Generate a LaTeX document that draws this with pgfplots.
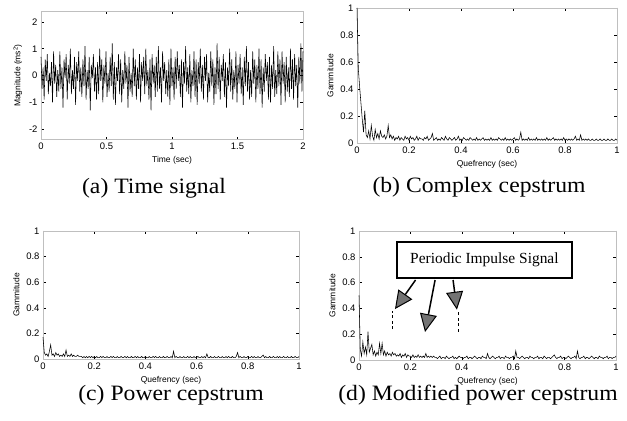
\documentclass[border=0pt]{standalone}
\usepackage{fontspec}
\setmainfont{Liberation Serif}
\newfontfamily\arial{Liberation Sans}
\usepackage{graphicx}
\usepackage{pgfplots}
\pgfplotsset{compat=1.18}
\usetikzlibrary{arrows.meta}
\pgfplotsset{
  base/.style={
    scale only axis, anchor=south west,
    tick align=inside, xtick pos=both, ytick pos=both,
    major tick length=3bp,
    axis line style={black!25, line width=0.4pt},
    tick style={black, line width=0.5pt},
    ticklabel style={font=\arial\fontsize{9.5}{10}\selectfont},
    /pgf/number format/assume math mode=true,
    label style={font=\arial\fontsize{8.5}{9}\selectfont},
    clip=false,
  },
  cep/.style={base, xmin=0, xmax=1, ymin=0, ymax=1,
    xtick={0,0.2,0.4,0.6,0.8,1}, ytick={0,0.2,0.4,0.6,0.8,1},
    xlabel={Quefrency (sec)}, ylabel={Gammitude}},
  dat/.style={black, line width=0.55pt, no marks},
}
\begin{document}
\begin{tikzpicture}
\path[use as bounding box] (0,0) rectangle (627bp,421bp);

% (a) Time signal
\begin{axis}[base, at={(41bp,281.3bp)}, width=262bp, height=128.4bp,
  xmin=0, xmax=2, ymin=-2.4, ymax=2.4,
  xtick={0,0.5,1,1.5,2}, ytick={-2,-1,0,1,2},
  xlabel={Time (sec)}, ylabel={Magnitude (ms\textsuperscript{2})}]
\addplot[dat] table[x expr=\coordindex/125, y index=0, header=false, row sep=\\] {
0.7\\ -0.5\\ 0.3\\ -0.9\\ 0.6\\ -0.2\\ 0.8\\ -0.7\\ 0.1\\ -0.4\\
0.5\\ -1.0\\ 0.9\\ -0.3\\ 0.4\\ -0.8\\ 0.2\\ -0.6\\ 0.9\\ -0.5\\
0.3\\ -1.2\\ 0.6\\ -0.1\\ 0.8\\ -0.9\\ 0.4\\ -0.3\\ 1.0\\ -0.7\\
0.2\\ -0.5\\ 0.7\\ -1.1\\ 0.5\\ -0.2\\ 0.9\\ -0.6\\ 0.3\\ -0.8\\
0.6\\ -0.4\\ 1.1\\ -0.9\\ 0.2\\ -0.5\\ 0.7\\ -1.3\\ 0.4\\ -0.1\\
0.8\\ -0.6\\ 0.3\\ -0.9\\ 0.5\\ -0.7\\ 1.0\\ -0.2\\ 0.6\\ -1.0\\
0.4\\ -0.3\\ 0.9\\ -0.8\\ 0.1\\ -0.6\\ 0.7\\ -0.4\\ 1.2\\ -0.9\\
0.5\\ -1.1\\ 0.3\\ -0.2\\ 0.8\\ -0.7\\ 0.6\\ -1.0\\ 0.2\\ -0.5\\
0.9\\ -0.3\\ 0.4\\ -1.2\\ 0.7\\ -0.6\\ 0.1\\ -0.8\\ 1.0\\ -0.4\\
0.6\\ -0.9\\ 0.3\\ -0.5\\ 0.8\\ -1.0\\ 0.5\\ -0.2\\ 0.7\\ -0.7\\
1.0\\ -0.4\\ 0.2\\ -0.9\\ 0.6\\ -1.3\\ 0.8\\ -0.3\\ 0.4\\ -0.8\\
0.7\\ -0.6\\ 1.1\\ -0.5\\ 0.3\\ -1.0\\ 0.9\\ -0.2\\ 0.5\\ -0.7\\
0.2\\ -0.8\\ 0.6\\ -1.1\\ 1.0\\ -0.4\\ 0.3\\ -0.9\\ 0.7\\ -0.5\\
0.9\\ -0.2\\ 0.4\\ -0.8\\ 0.6\\ -1.2\\ 0.5\\ -0.3\\ 1.1\\ -0.6\\
0.3\\ -0.7\\ 0.8\\ -1.0\\ 0.2\\ -0.4\\ 0.9\\ -0.8\\ 0.6\\ -1.1\\
0.5\\ -0.3\\ 1.0\\ -0.6\\ 0.4\\ -0.9\\ 0.7\\ -0.2\\ 0.8\\ -1.0\\
0.1\\ -0.6\\ 0.9\\ -0.4\\ 0.6\\ -1.1\\ 0.3\\ -0.7\\ 1.2\\ -0.5\\
0.7\\ -0.9\\ 0.4\\ -0.2\\ 0.8\\ -0.8\\ 0.5\\ -1.2\\ 0.3\\ -0.4\\
1.0\\ -0.6\\ 0.6\\ -0.9\\ 0.2\\ -0.5\\ 0.9\\ -1.0\\ 0.4\\ -0.3\\
0.8\\ -0.7\\ 0.3\\ -1.1\\ 0.7\\ -0.4\\ 1.1\\ -0.6\\ 0.5\\ -0.9\\
0.2\\ -0.8\\ 0.9\\ -0.3\\ 0.6\\ -1.0\\ 0.4\\ -0.5\\ 1.0\\ -0.7\\
0.6\\ -1.2\\ 0.3\\ -0.6\\ 0.8\\ -0.2\\ 0.5\\ -0.9\\ 0.7\\ -1.0\\
0.4\\ -0.5\\ 1.1\\ -0.8\\ 0.2\\ -0.7\\ 0.9\\ -0.4\\ 0.6\\ -1.1\\
0.9\\ -0.3\\ 0.5\\ -1.0\\ 0.7\\ -0.6\\ 0.3\\ -0.8\\ 1.0\\ -0.5\\
0.6\\ -0.9\\ 0.8\\ -0.4\\ 0.4\\ -1.2\\ 0.7\\ -0.3\\ 1.2\\ -0.6\\
0.9\\
};
\end{axis}

% (b) Complex cepstrum
\begin{axis}[cep, at={(357bp,278bp)}, width=260bp, height=135bp]
\addplot[dat] table[x expr=\coordindex/200, y index=0, header=false, row sep=\\] {
1.0\\ 0.55\\ 0.42\\ 0.30\\ 0.18\\ 0.08\\ 0.24\\ 0.06\\ 0.04\\ 0.09\\
0.03\\ 0.13\\ 0.05\\ 0.02\\ 0.10\\ 0.04\\ 0.07\\ 0.03\\ 0.09\\ 0.05\\
0.04\\ 0.06\\ 0.03\\ 0.05\\ 0.13\\ 0.04\\ 0.06\\ 0.03\\ 0.05\\ 0.02\\
0.04\\ 0.03\\ 0.05\\ 0.02\\ 0.04\\ 0.03\\ 0.02\\ 0.05\\ 0.03\\ 0.04\\
0.02\\ 0.05\\ 0.03\\ 0.04\\ 0.02\\ 0.03\\ 0.05\\ 0.02\\ 0.04\\ 0.03\\
0.03\\ 0.02\\ 0.04\\ 0.03\\ 0.05\\ 0.02\\ 0.03\\ 0.04\\ 0.07\\ 0.02\\
0.03\\ 0.04\\ 0.02\\ 0.03\\ 0.02\\ 0.04\\ 0.03\\ 0.02\\ 0.05\\ 0.03\\
0.02\\ 0.04\\ 0.03\\ 0.02\\ 0.03\\ 0.04\\ 0.02\\ 0.03\\ 0.05\\ 0.02\\
0.03\\ 0.02\\ 0.04\\ 0.03\\ 0.02\\ 0.03\\ 0.02\\ 0.04\\ 0.03\\ 0.02\\
0.03\\ 0.02\\ 0.04\\ 0.02\\ 0.03\\ 0.02\\ 0.03\\ 0.04\\ 0.02\\ 0.03\\
0.02\\ 0.03\\ 0.02\\ 0.04\\ 0.02\\ 0.03\\ 0.02\\ 0.03\\ 0.02\\ 0.04\\
0.03\\ 0.02\\ 0.03\\ 0.02\\ 0.04\\ 0.02\\ 0.03\\ 0.02\\ 0.03\\ 0.02\\
0.03\\ 0.04\\ 0.02\\ 0.03\\ 0.02\\ 0.03\\ 0.08\\ 0.02\\ 0.03\\ 0.02\\
0.03\\ 0.02\\ 0.04\\ 0.02\\ 0.03\\ 0.02\\ 0.03\\ 0.02\\ 0.04\\ 0.02\\
0.03\\ 0.02\\ 0.03\\ 0.02\\ 0.03\\ 0.02\\ 0.04\\ 0.02\\ 0.03\\ 0.02\\
0.03\\ 0.04\\ 0.02\\ 0.03\\ 0.02\\ 0.03\\ 0.02\\ 0.03\\ 0.02\\ 0.04\\
0.02\\ 0.03\\ 0.02\\ 0.03\\ 0.02\\ 0.03\\ 0.02\\ 0.03\\ 0.05\\ 0.02\\
0.03\\ 0.02\\ 0.06\\ 0.02\\ 0.03\\ 0.02\\ 0.03\\ 0.02\\ 0.03\\ 0.02\\
0.02\\ 0.03\\ 0.02\\ 0.02\\ 0.03\\ 0.02\\ 0.02\\ 0.03\\ 0.02\\ 0.02\\
0.03\\ 0.02\\ 0.02\\ 0.03\\ 0.02\\ 0.02\\ 0.03\\ 0.02\\ 0.02\\ 0.03\\
0.02\\
};
\end{axis}

% (c) Power cepstrum
\begin{axis}[cep, at={(43bp,62bp)}, width=256bp, height=128bp]
\addplot[dat] table[x expr=\coordindex/200, y index=0, header=false, row sep=\\] {
0.17\\ 0.05\\ 0.03\\ 0.04\\ 0.02\\ 0.06\\ 0.11\\ 0.03\\ 0.04\\ 0.02\\
0.05\\ 0.03\\ 0.04\\ 0.02\\ 0.03\\ 0.02\\ 0.04\\ 0.02\\ 0.07\\ 0.02\\
0.03\\ 0.02\\ 0.04\\ 0.02\\ 0.03\\ 0.02\\ 0.02\\ 0.03\\ 0.02\\ 0.02\\
0.02\\ 0.01\\ 0.02\\ 0.01\\ 0.02\\ 0.01\\ 0.02\\ 0.01\\ 0.02\\ 0.01\\
0.02\\ 0.01\\ 0.02\\ 0.01\\ 0.01\\ 0.02\\ 0.01\\ 0.02\\ 0.01\\ 0.01\\
0.02\\ 0.01\\ 0.01\\ 0.02\\ 0.01\\ 0.02\\ 0.01\\ 0.01\\ 0.02\\ 0.01\\
0.01\\ 0.02\\ 0.01\\ 0.01\\ 0.02\\ 0.01\\ 0.02\\ 0.01\\ 0.01\\ 0.02\\
0.01\\ 0.01\\ 0.02\\ 0.01\\ 0.02\\ 0.01\\ 0.01\\ 0.02\\ 0.01\\ 0.01\\
0.02\\ 0.01\\ 0.01\\ 0.02\\ 0.01\\ 0.01\\ 0.02\\ 0.01\\ 0.02\\ 0.01\\
0.01\\ 0.02\\ 0.01\\ 0.01\\ 0.02\\ 0.01\\ 0.01\\ 0.02\\ 0.01\\ 0.01\\
0.02\\ 0.01\\ 0.06\\ 0.01\\ 0.02\\ 0.01\\ 0.01\\ 0.02\\ 0.01\\ 0.01\\
0.02\\ 0.01\\ 0.01\\ 0.02\\ 0.01\\ 0.02\\ 0.01\\ 0.01\\ 0.02\\ 0.01\\
0.01\\ 0.02\\ 0.01\\ 0.01\\ 0.02\\ 0.01\\ 0.02\\ 0.01\\ 0.04\\ 0.01\\
0.01\\ 0.02\\ 0.01\\ 0.01\\ 0.02\\ 0.01\\ 0.01\\ 0.02\\ 0.01\\ 0.01\\
0.02\\ 0.01\\ 0.01\\ 0.02\\ 0.01\\ 0.02\\ 0.01\\ 0.01\\ 0.02\\ 0.01\\
0.01\\ 0.02\\ 0.05\\ 0.01\\ 0.02\\ 0.01\\ 0.01\\ 0.02\\ 0.01\\ 0.01\\
0.02\\ 0.01\\ 0.01\\ 0.02\\ 0.01\\ 0.02\\ 0.01\\ 0.01\\ 0.02\\ 0.01\\
0.01\\ 0.02\\ 0.03\\ 0.01\\ 0.02\\ 0.01\\ 0.01\\ 0.02\\ 0.01\\ 0.01\\
0.02\\ 0.01\\ 0.01\\ 0.02\\ 0.01\\ 0.02\\ 0.01\\ 0.01\\ 0.02\\ 0.01\\
0.01\\ 0.02\\ 0.01\\ 0.01\\ 0.02\\ 0.01\\ 0.01\\ 0.02\\ 0.01\\ 0.01\\
0.02\\
};
\end{axis}

% (d) Modified power cepstrum
\begin{axis}[cep, at={(359bp,61bp)}, width=257bp, height=129bp]
\addplot[dat] table[x expr=\coordindex/200, y index=0, header=false, row sep=\\] {
0.50\\ 0.08\\ 0.03\\ 0.14\\ 0.05\\ 0.10\\ 0.04\\ 0.22\\ 0.06\\ 0.09\\
0.12\\ 0.04\\ 0.07\\ 0.03\\ 0.06\\ 0.04\\ 0.13\\ 0.05\\ 0.13\\ 0.04\\
0.07\\ 0.03\\ 0.06\\ 0.04\\ 0.05\\ 0.03\\ 0.06\\ 0.04\\ 0.05\\ 0.03\\
0.04\\ 0.03\\ 0.05\\ 0.02\\ 0.04\\ 0.03\\ 0.05\\ 0.02\\ 0.04\\ 0.03\\
0.03\\ 0.02\\ 0.04\\ 0.02\\ 0.03\\ 0.02\\ 0.04\\ 0.02\\ 0.03\\ 0.02\\
0.03\\ 0.02\\ 0.05\\ 0.02\\ 0.03\\ 0.02\\ 0.03\\ 0.02\\ 0.03\\ 0.02\\
0.02\\ 0.01\\ 0.02\\ 0.03\\ 0.01\\ 0.02\\ 0.02\\ 0.01\\ 0.03\\ 0.02\\
0.01\\ 0.02\\ 0.02\\ 0.03\\ 0.01\\ 0.02\\ 0.01\\ 0.02\\ 0.03\\ 0.02\\
0.02\\ 0.01\\ 0.02\\ 0.02\\ 0.03\\ 0.01\\ 0.02\\ 0.02\\ 0.01\\ 0.02\\
0.03\\ 0.02\\ 0.01\\ 0.02\\ 0.02\\ 0.01\\ 0.03\\ 0.02\\ 0.02\\ 0.01\\
0.05\\ 0.02\\ 0.01\\ 0.02\\ 0.03\\ 0.02\\ 0.01\\ 0.02\\ 0.02\\ 0.03\\
0.01\\ 0.02\\ 0.02\\ 0.01\\ 0.03\\ 0.02\\ 0.02\\ 0.01\\ 0.02\\ 0.02\\
0.03\\ 0.01\\ 0.07\\ 0.02\\ 0.02\\ 0.01\\ 0.02\\ 0.03\\ 0.02\\ 0.01\\
0.02\\ 0.02\\ 0.01\\ 0.03\\ 0.02\\ 0.02\\ 0.01\\ 0.02\\ 0.02\\ 0.03\\
0.01\\ 0.02\\ 0.02\\ 0.01\\ 0.03\\ 0.02\\ 0.01\\ 0.02\\ 0.02\\ 0.01\\
0.02\\ 0.03\\ 0.04\\ 0.02\\ 0.01\\ 0.02\\ 0.02\\ 0.03\\ 0.01\\ 0.02\\
0.02\\ 0.01\\ 0.02\\ 0.03\\ 0.02\\ 0.01\\ 0.02\\ 0.02\\ 0.03\\ 0.01\\
0.07\\ 0.02\\ 0.01\\ 0.02\\ 0.02\\ 0.03\\ 0.01\\ 0.02\\ 0.02\\ 0.01\\
0.02\\ 0.03\\ 0.02\\ 0.01\\ 0.02\\ 0.02\\ 0.01\\ 0.03\\ 0.02\\ 0.02\\
0.01\\ 0.02\\ 0.02\\ 0.03\\ 0.01\\ 0.02\\ 0.02\\ 0.01\\ 0.02\\ 0.02\\
0.03\\
};
\addplot[black, line width=0.8pt, dash pattern=on 3bp off 2.5bp] coordinates {(0.13,0.24) (0.13,0.38)};
\addplot[black, line width=0.8pt, dash pattern=on 3bp off 2.5bp] coordinates {(0.385,0.22) (0.385,0.38)};
\draw[line width=1.5pt, -{Triangle[length=18bp,width=17bp,fill=black!55,line width=1pt]}] (axis cs:0.22,0.62) -- (axis cs:0.14,0.395);
\draw[line width=1.5pt, -{Triangle[length=18bp,width=17bp,fill=black!55,line width=1pt]}] (axis cs:0.296,0.62) -- (axis cs:0.257,0.217);
\draw[line width=1.5pt, -{Triangle[length=18bp,width=17bp,fill=black!55,line width=1pt]}] (axis cs:0.366,0.62) -- (axis cs:0.381,0.39);
\node[draw, fill=white, line width=1.4pt, minimum width=175bp, minimum height=36bp, inner sep=0pt,
  font=\fontsize{15.5}{17}\selectfont] at (axis cs:0.488,0.775) {Periodic Impulse Signal};
\end{axis}

% captions
\node[font=\fontsize{22}{26}\selectfont] at (154bp,233bp) {\scalebox{1.08}[1]{(a) Time signal}};
\node[font=\fontsize{22}{26}\selectfont] at (479bp,234bp) {\scalebox{1.08}[1]{(b) Complex cepstrum}};
\node[font=\fontsize{22}{26}\selectfont] at (171bp,25.5bp) {\scalebox{1.08}[1]{(c) Power cepstrum}};
\node[font=\fontsize{22}{26}\selectfont] at (478bp,25.5bp) {\scalebox{1.08}[1]{(d) Modified power cepstrum}};
\end{tikzpicture}
\end{document}
